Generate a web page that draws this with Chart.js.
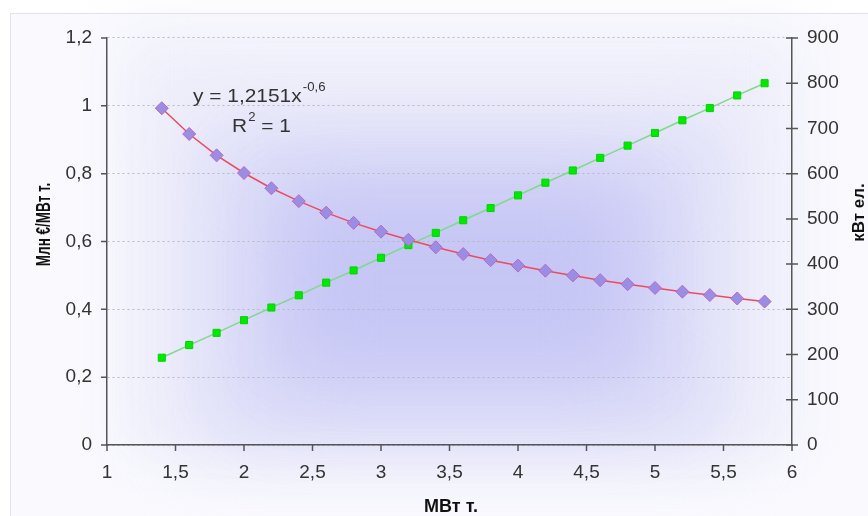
<!DOCTYPE html>
<html><head><meta charset="utf-8">
<script src="https://cdn.jsdelivr.net/npm/chart.js@4/dist/chart.umd.min.js"></script>
<style>html,body{margin:0;padding:0;background:#fff}#wrap{width:868px;height:516px}</style>
</head><body><div id="wrap"><canvas id="c" width="868" height="516"></canvas></div>
<script>
// ---- data ----
const capacityMWt = [1.4,1.6,1.8,2.0,2.2,2.4,2.6,2.8,3.0,3.2,3.4,3.6,3.8,4.0,4.2,4.4,4.6,4.8,5.0,5.2,5.4,5.6,5.8];
const costMlnEurPerMWt = [0.993,0.917,0.854,0.802,0.757,0.719,0.685,0.655,0.629,0.605,0.583,0.563,0.545,0.529,0.514,0.500,0.486,0.474,0.463,0.452,0.442,0.432,0.423];
const powerKWel = [193,221,248,276,304,331,359,386,414,442,469,497,524,552,580,607,635,662,690,718,745,773,800];
const xTickLabels = ['1','1,5','2','2,5','3','3,5','4','4,5','5','5,5','6'];
const yTickLabels = ['0','0,2','0,4','0,6','0,8','1','1,2'];
const y2TickLabels = ['0','100','200','300','400','500','600','700','800','900'];
const xTitle = 'МВт т.';
const yTitle = 'Млн €/МВт т.';
const y2Title = 'кВт ел.';
const eqMain = 'y = 1,2151x';
const eqExp = '-0,6';

const FONT = '"Liberation Sans", Arial, sans-serif';
const TXT = '#333333';

const bgPlugin = {
  id: 'bg',
  beforeDraw(chart) {
    const ctx = chart.ctx;
    ctx.save();
    ctx.fillStyle = '#ffffff';
    ctx.fillRect(0, 0, 868, 516);
    ctx.fillStyle = '#fafafe';
    ctx.fillRect(10, 13, 858, 503);
    const boxes = [
      [120, 30, 680, 430, '#efeffb', 30],
      [190, 120, 540, 330, '#e0e0f9', 35],
      [260, 170, 400, 230, '#cfcff7', 40],
      [300, 205, 320, 150, '#c6c6f5', 35]
    ];
    boxes.forEach(b => {
      ctx.filter = 'blur(' + b[5] + 'px)';
      ctx.fillStyle = b[4];
      ctx.fillRect(b[0], b[1], b[2], b[3]);
    });
    ctx.filter = 'none';
    ctx.strokeStyle = '#e2e2e8';
    ctx.lineWidth = 1;
    ctx.beginPath();
    ctx.moveTo(10.5, 516); ctx.lineTo(10.5, 13.5); ctx.lineTo(868, 13.5);
    ctx.stroke();
    ctx.restore();
  }
};

const decorPlugin = {
  id: 'decor',
  afterDraw(chart) {
    const ctx = chart.ctx;
    const sx = chart.scales.x, sy = chart.scales.y, sy2 = chart.scales.y1;
    ctx.save();
    ctx.strokeStyle = '#555';
    ctx.lineWidth = 1.5;
    ctx.beginPath();
    sx.ticks.forEach(t => { const p = sx.getPixelForValue(t.value); ctx.moveTo(p, sx.top); ctx.lineTo(p, sx.top + 6); });
    sy.ticks.forEach(t => { const p = sy.getPixelForValue(t.value); ctx.moveTo(sy.right - 6, p); ctx.lineTo(sy.right, p); });
    sy2.ticks.forEach(t => { const p = sy2.getPixelForValue(t.value); ctx.moveTo(sy2.left - 6, p); ctx.lineTo(sy2.left + 6, p); });
    ctx.stroke();

    ctx.fillStyle = '#111';
    ctx.textAlign = 'center';
    ctx.textBaseline = 'alphabetic';
    ctx.font = 'bold 18px ' + FONT;
    ctx.fillText(xTitle, 451, 512);
    ctx.save(); ctx.translate(50, 224.5); ctx.rotate(-Math.PI / 2); ctx.scale(0.9, 1.3);
    ctx.font = 'bold 15px ' + FONT; ctx.fillText(yTitle, 0, 0); ctx.restore();
    ctx.save(); ctx.translate(864, 212.5); ctx.rotate(-Math.PI / 2);
    ctx.font = 'bold 17px ' + FONT; ctx.fillText(y2Title, 0, 0); ctx.restore();

    ctx.fillStyle = TXT;
    ctx.textAlign = 'left';
    ctx.save();
    ctx.translate(193, 0);
    ctx.scale(1.1, 1);
    ctx.font = '19px ' + FONT;
    ctx.fillText(eqMain, 0, 102);
    const w = ctx.measureText(eqMain).width;
    ctx.font = '12px ' + FONT;
    ctx.fillText(eqExp, w + 1, 91);
    ctx.restore();
    ctx.save();
    ctx.translate(232, 0);
    ctx.scale(1.1, 1);
    ctx.font = '19px ' + FONT;
    ctx.fillText('R', 0, 132);
    const wr = ctx.measureText('R').width;
    ctx.font = '12px ' + FONT;
    ctx.fillText('2', wr + 1, 121);
    const w2 = ctx.measureText('2').width;
    ctx.font = '19px ' + FONT;
    ctx.fillText(' = 1', wr + 1 + w2, 132);
    ctx.restore();
    ctx.restore();
  }
};

const costPts = capacityMWt.map((x, i) => ({x, y: costMlnEurPerMWt[i]}));
const powerPts = capacityMWt.map((x, i) => ({x, y: powerKWel[i]}));

new Chart(document.getElementById('c'), {
  type: 'scatter',
  data: {
    datasets: [
      {
        label: 'cost', data: costPts, yAxisID: 'y', showLine: true, order: 1,
        borderColor: '#ef4a5c', borderWidth: 1.5, tension: 0,
        pointStyle: 'rectRot', pointRadius: 6.5, pointBackgroundColor: '#9c8de4',
        pointBorderColor: '#b36ac6', pointBorderWidth: 1
      },
      {
        label: 'power', data: powerPts, yAxisID: 'y1', showLine: true, order: 2,
        borderColor: '#7fd98a', borderWidth: 1.5,
        pointStyle: 'rect', pointRadius: 5, pointBackgroundColor: '#00ea00',
        pointBorderColor: '#00d400', pointBorderWidth: 1
      }
    ]
  },
  options: {
    responsive: false, animation: false, devicePixelRatio: 1,
    layout: {padding: {top: 38, left: 0, right: 0, bottom: 0}},
    plugins: {legend: {display: false}, tooltip: {enabled: false}},
    scales: {
      x: {
        type: 'linear', min: 1, max: 6,
        afterFit(s) { s.height = 71; },
        afterBuildTicks(s) { s.ticks = xTickLabels.map((l, i) => ({value: 1 + i * 0.5})); },
        ticks: {padding: 16, color: TXT, font: {family: FONT, size: 19}, autoSkip: false, maxRotation: 0,
          callback: (v, i) => xTickLabels[i]},
        grid: {display: false, drawTicks: false},
        border: {display: true, color: '#555', width: 1.5}
      },
      y: {
        type: 'linear', position: 'left', min: 0, max: 1.2,
        afterFit(s) { s.width = 107; },
        afterBuildTicks(s) { s.ticks = yTickLabels.map((l, i) => ({value: i * 0.2})); },
        ticks: {padding: 15, color: TXT, font: {family: FONT, size: 19}, autoSkip: false,
          callback: (v, i) => yTickLabels[i]},
        grid: {color: '#b8b8c4', lineWidth: 1, drawTicks: false},
        border: {display: true, color: '#555', width: 1.5, dash: [2, 3]}
      },
      y1: {
        type: 'linear', position: 'right', min: 0, max: 900,
        afterFit(s) { s.width = 76; },
        afterBuildTicks(s) { s.ticks = y2TickLabels.map((l, i) => ({value: i * 100})); },
        ticks: {padding: 15, color: TXT, font: {family: FONT, size: 19}, autoSkip: false,
          callback: (v, i) => y2TickLabels[i]},
        grid: {display: false, drawTicks: false},
        border: {display: true, color: '#555', width: 1.5}
      }
    }
  },
  plugins: [bgPlugin, decorPlugin]
});
</script>
</body></html>
